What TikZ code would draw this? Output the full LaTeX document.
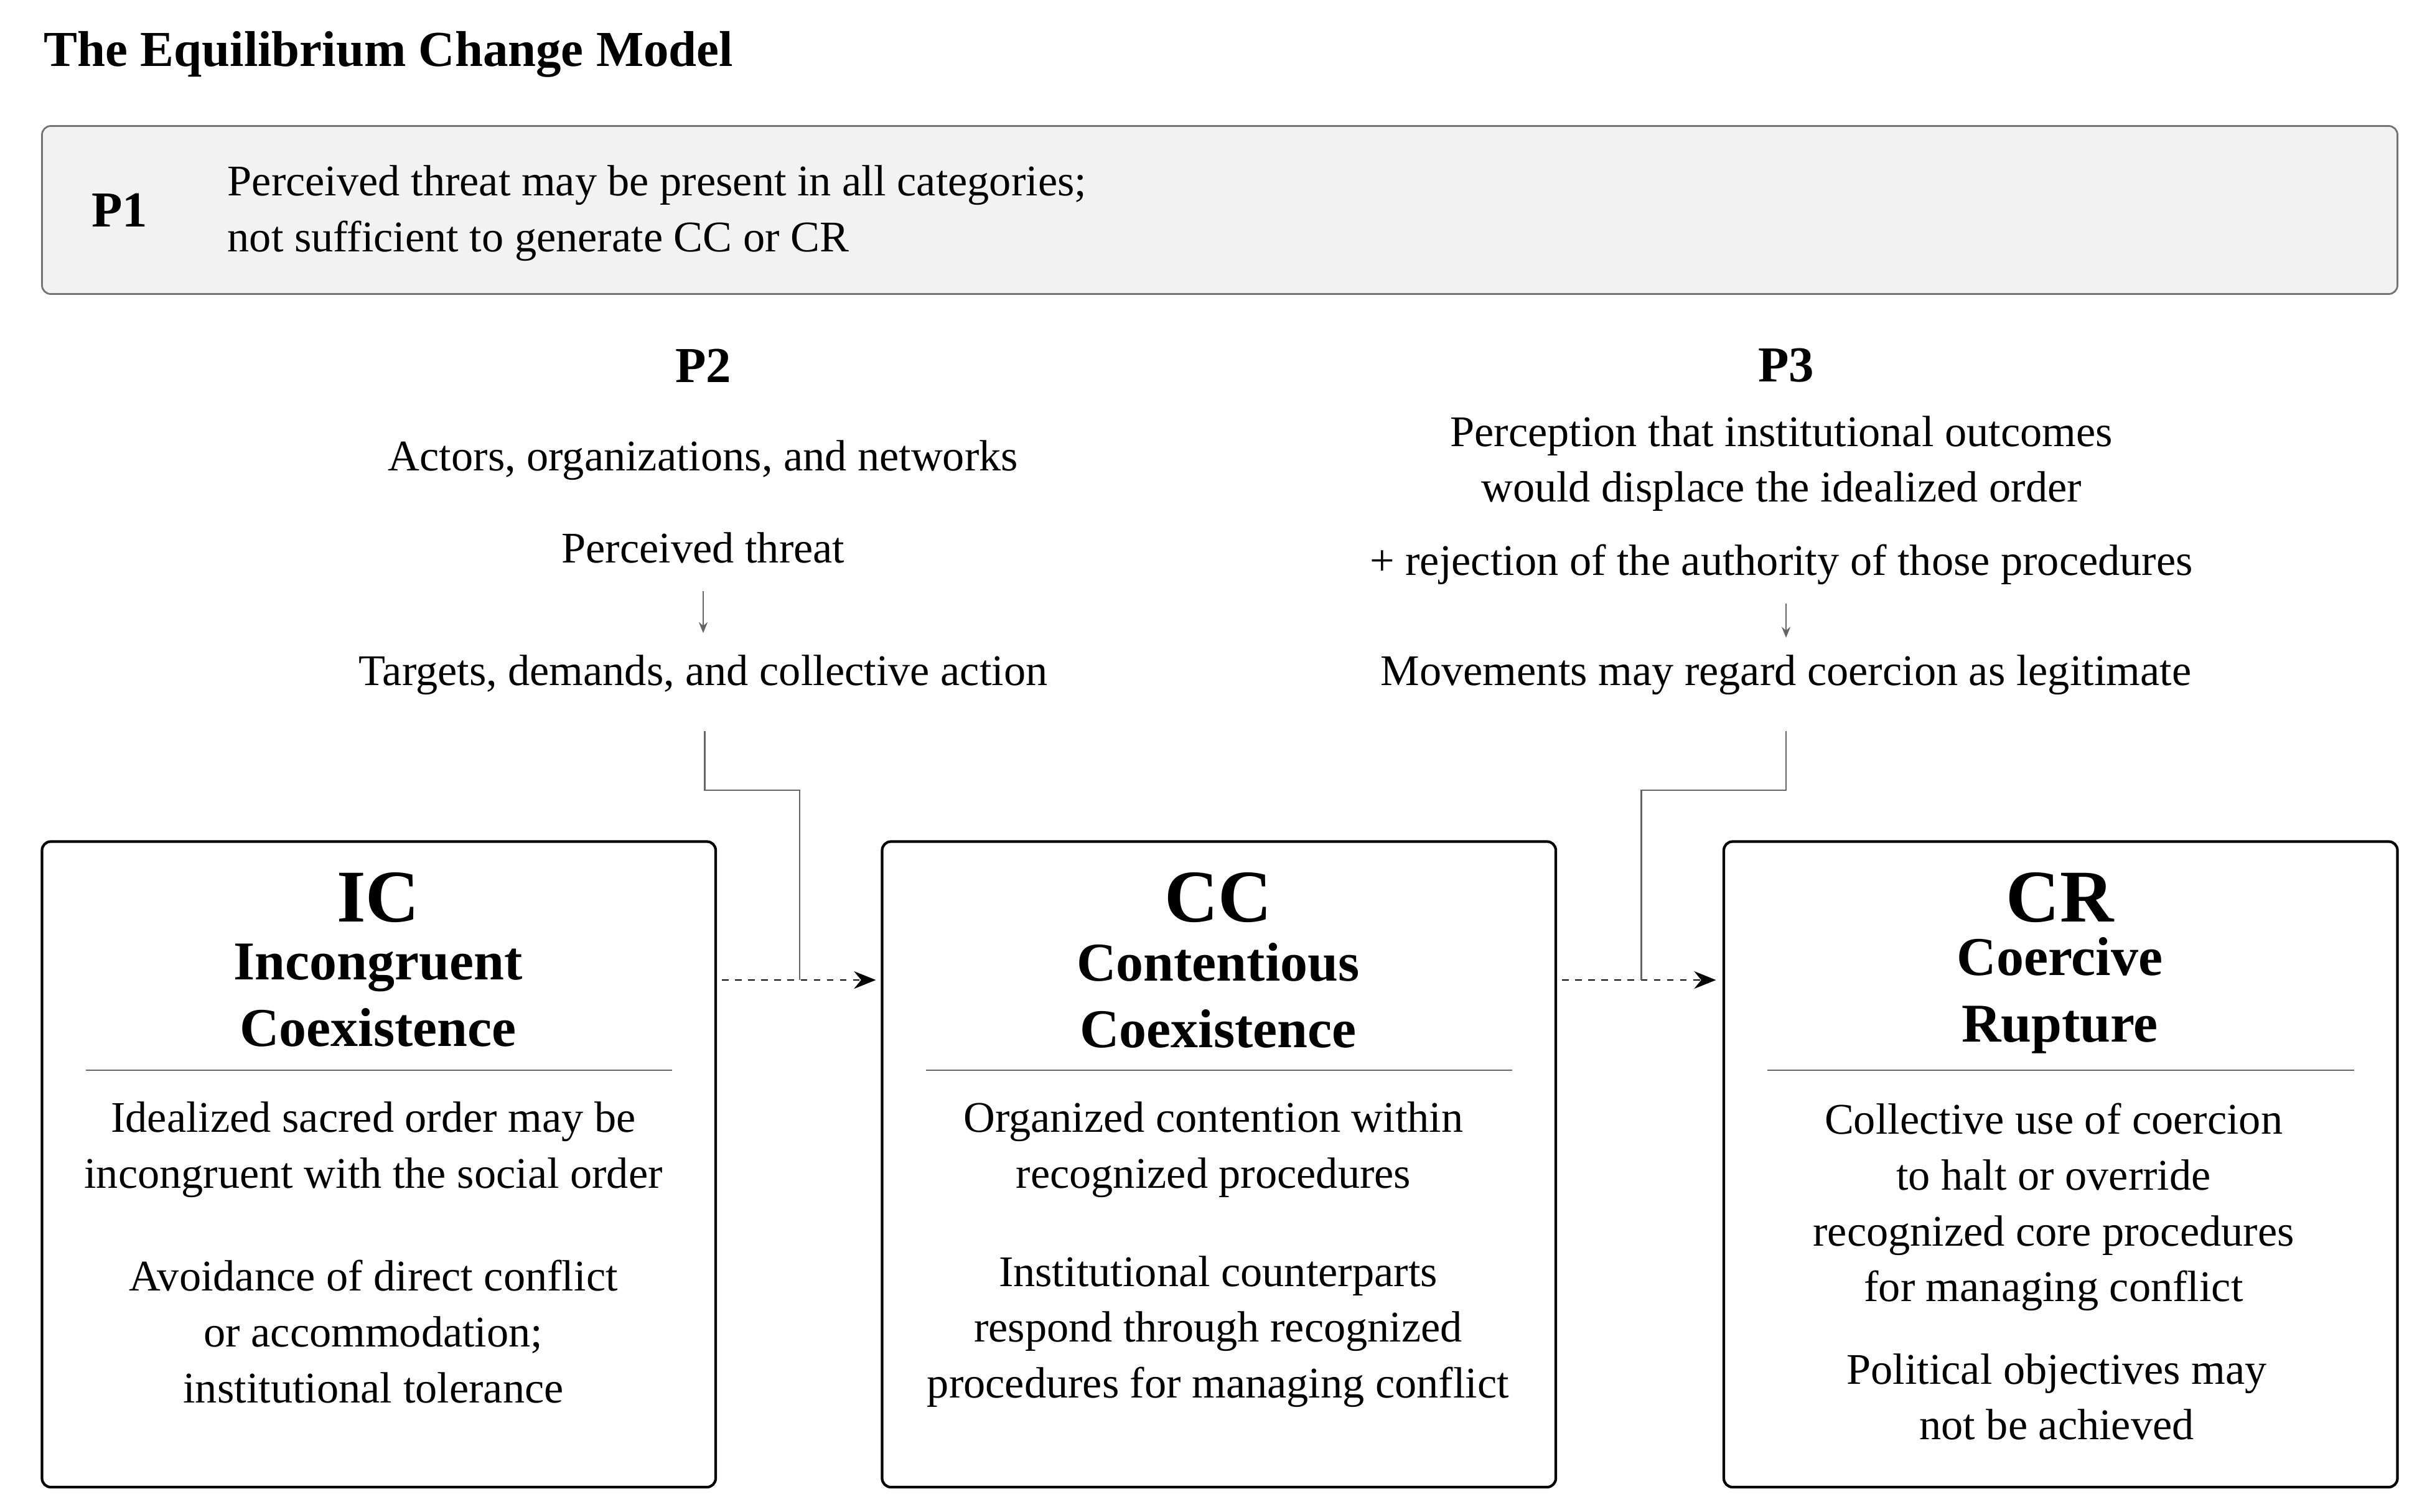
\documentclass[tikz,border=0pt]{standalone}
\usepackage{fontspec}
\setmainfont{Liberation Serif}
\usetikzlibrary{arrows.meta,positioning}

\begin{document}
\begin{tikzpicture}[x=0.025cm,y=-0.025cm,
            every node/.style = {inner sep=0pt, align=center, font=\fontsize{20}{25.5}\selectfont},
            stage/.style = {draw, very thick, rounded corners=4pt},
            abbr/.style = {font=\fontsize{34}{38}\selectfont\bfseries},
            title/.style = {font=\fontsize{25}{30.5}\selectfont\bfseries},
            head/.style = {font=\fontsize{23}{28}\selectfont\bfseries},
            conn/.style = {draw=black!60, thick},
            flow/.style = {thick, dashed, -{Stealth[length=10pt,width=8pt]}},
            leads/.style = {draw=black!60, thick, -{Stealth[length=5pt,width=4pt]}}
            ]
            \useasboundingbox (0,0) rectangle (1560,971.6);
            \node[head, anchor=west] (title) at (28,35) {The Equilibrium Change Model};
            % P1 band
            \draw[draw=black!55, thick, fill=black!5, rounded corners=4pt] (27,81) rectangle (1541,189);
            \node[head] (p1) at (77,135) {P1};
            \node[anchor=west, align=left] (p1t) at (146,137) {Perceived threat may be present in all categories;\\not sufficient to generate CC or CR};
            % P2
            \node[head] (p2) at (452,235) {P2};
            \node (p2a) at (452,296) {Actors, organizations, and networks};
            \node (p2b) at (452,352) {Perceived threat};
            \node (p2c) at (452,434) {Targets, demands, and collective action};
            \draw[leads] (452,380) -- (452,407);
            % P3
            \node[head] (p3) at (1148,235) {P3};
            \node (p3a) at (1145,298) {Perception that institutional outcomes\\would displace the idealized order};
            \node (p3b) at (1145,363) {+ rejection of the authority of those procedures};
            \node (p3c) at (1148,434) {Movements may regard coercion as legitimate};
            \draw[leads] (1148,388) -- (1148,410);
            % stages
            \draw[stage] (27,541) rectangle (460,956);
            \draw[stage] (567,541) rectangle (1000,956);
            \draw[stage] (1108,541) rectangle (1541,956);
            \node[abbr] (ic) at (243,577) {IC};
            \node[title] (icn) at (243,640) {Incongruent\\Coexistence};
            \draw[black!60] (55,688) -- (432,688);
            \node (ica) at (240,739) {Idealized sacred order may be\\incongruent with the social order};
            \node (icb) at (240,856) {Avoidance of direct conflict\\or accommodation;\\institutional tolerance};
            \node[abbr] (cc) at (783,577) {CC};
            \node[title] (ccn) at (783,640) {Contentious\\Coexistence};
            \draw[black!60] (595,688) -- (972,688);
            \node (cca) at (780,739) {Organized contention within\\recognized procedures};
            \node (ccb) at (783,856) {Institutional counterparts\\respond through recognized\\procedures for managing conflict};
            \node[abbr] (cr) at (1324,577) {CR};
            \node[title] (crn) at (1324,640) {Coercive\\Rupture};
            \draw[black!60] (1136,688) -- (1513,688);
            \node (cra) at (1320,776) {Collective use of coercion\\to halt or override\\recognized core procedures\\for managing conflict};
            \node (crb) at (1322,898) {Political objectives may\\not be achieved};
            % transitions
            \coordinate (j1) at (514,630);
            \coordinate (j2) at (1055,630);
            \draw[flow] (464,630) -- (563,630);
            \draw[flow] (1004,630) -- (1103,630);
            \draw[conn] (453,470) -- (453,508) -| (j1);
            \draw[conn] (1148,470) -- (1148,508) -| (j2);
        \end{tikzpicture}
\end{document}
